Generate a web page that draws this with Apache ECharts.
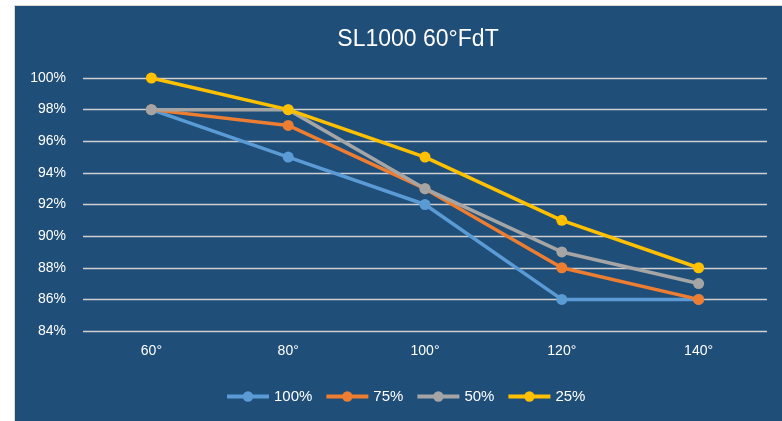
<!DOCTYPE html>
<html>
<head>
<meta charset="utf-8">
<script src="https://cdn.jsdelivr.net/npm/echarts@6/dist/echarts.min.js"></script>
<style>
html,body{margin:0;padding:0;background:#fff;}
#c{width:782px;height:421px;}
</style>
</head>
<body>
<div id="c"></div>
<script>
const categories = ['60°', '80°', '100°', '120°', '140°'];
const s100 = [98, 95, 92, 86, 86];
const s75 = [98, 97, 93, 88, 86];
const s50 = [98, 98, 93, 89, 87];
const s25 = [100, 98, 95, 91, 88];
const seriesNames = ['100%', '75%', '50%', '25%'];
const colors = ['#5B9BD5', '#ED7D31', '#A5A5A5', '#FFC000'];
const seriesData = [s100, s75, s50, s25];

const chart = echarts.init(document.getElementById('c'));
const font = 'Liberation Sans, Arial, sans-serif';
chart.setOption({
  backgroundColor: '#ffffff',
  animation: false,
  color: colors,
  graphic: [{
    type: 'rect',
    z: -10,
    shape: { x: 14.5, y: 5.5, width: 800, height: 430 },
    style: { fill: '#1F4E79', stroke: '#D9D9D9', lineWidth: 1 }
  }],
  title: {
    text: 'SL1000 60°FdT',
    left: 413,
    textAlign: 'center',
    top: 23,
    textStyle: { color: '#ffffff', fontSize: 23, fontWeight: 'normal', fontFamily: font }
  },
  legend: {
    left: 220,
    top: 384,
    itemWidth: 42,
    itemHeight: 13,
    itemGap: 12,
    lineStyle: { width: 4 },
    textStyle: { color: '#ffffff', fontSize: 15, fontFamily: font },
    data: seriesNames
  },
  grid: { left: 83, right: 15, top: 78, bottom: 90, containLabel: false },
  xAxis: {
    type: 'category',
    data: categories,
    boundaryGap: true,
    axisLine: { show: false },
    axisTick: { show: false },
    axisLabel: { color: '#ffffff', fontSize: 14, fontFamily: font, margin: 13 }
  },
  yAxis: {
    type: 'value',
    min: 84,
    max: 100,
    interval: 2,
    axisLine: { show: false },
    axisTick: { show: false },
    axisLabel: { color: '#ffffff', fontSize: 14, fontFamily: font, formatter: '{value}%', margin: 17 },
    splitLine: { lineStyle: { color: '#D0D0D0', width: 1.3 } }
  },
  series: seriesNames.map((n, i) => ({
    name: n,
    type: 'line',
    data: seriesData[i],
    symbol: 'circle',
    symbolSize: 11,
    lineStyle: { width: 3.5, color: colors[i] },
    itemStyle: { color: colors[i] }
  }))
});
</script>
</body>
</html>
